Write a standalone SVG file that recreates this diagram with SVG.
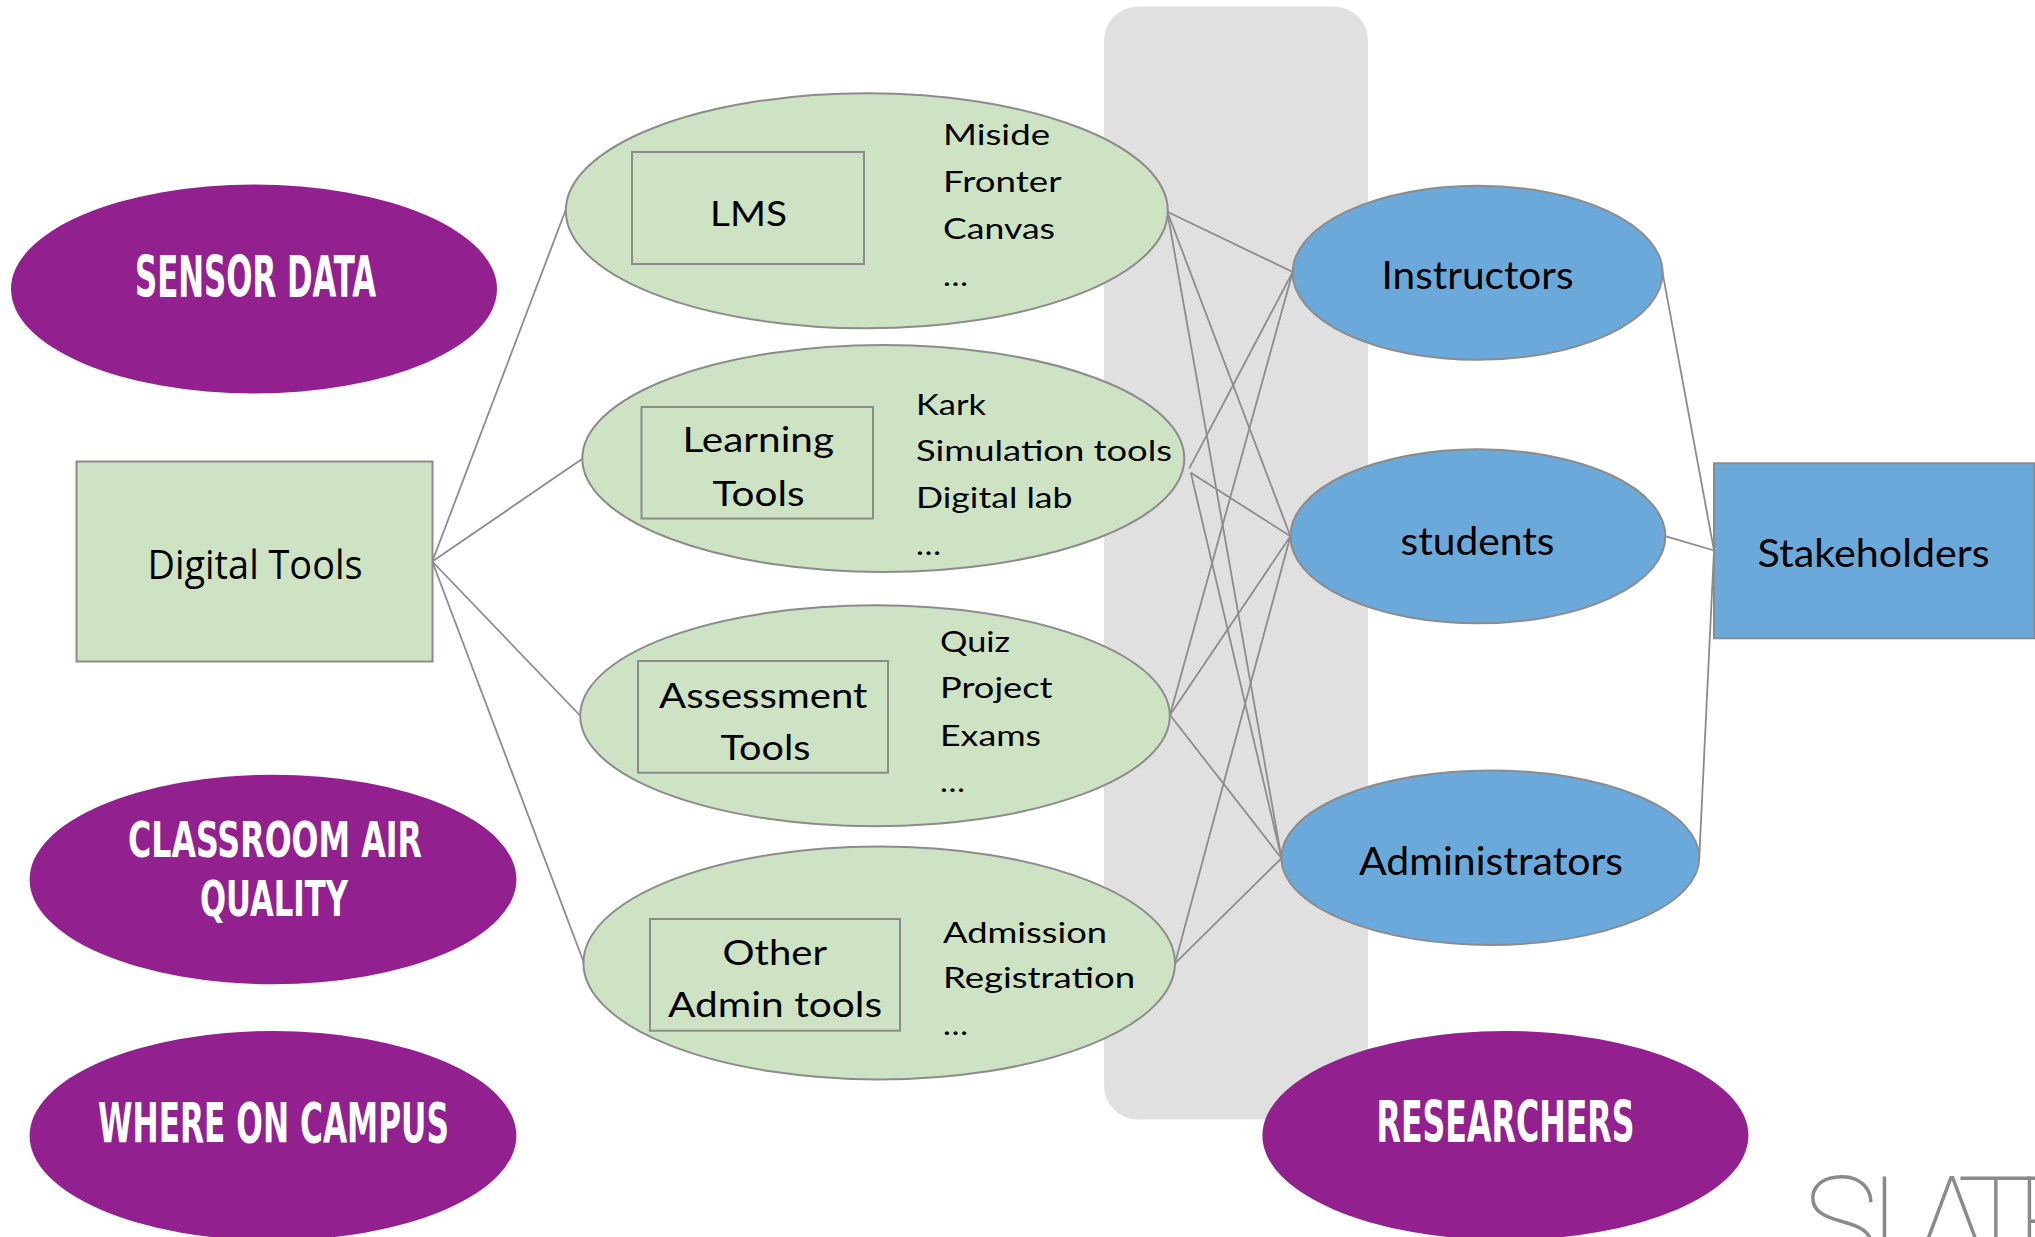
<svg xmlns="http://www.w3.org/2000/svg" width="2035" height="1237" viewBox="0 0 2035 1237">
<style>
.bg{fill:#e0e0e0}
.purple{fill:#93208f}
.ptxt{font-family:"DejaVu Sans Condensed","DejaVu Sans",sans-serif;font-stretch:condensed;font-weight:bold;fill:#ffffff}
.green{fill:#cee3c3;stroke:#8c8c8c;stroke-width:2}
.blue{fill:#6aa9d9;stroke:#8c8c8c;stroke-width:2}
.lbl{font-family:Lato,"Open Sans",sans-serif;fill:#000000}
.box{font-size:34px}
.lst{font-size:28px}
.big{font-size:38px}
.dt{font-family:"Open Sans",sans-serif;font-size:40px;fill:#000000}
.conn line{stroke:#8c8c8c;stroke-width:1.8}
.slate{font-family:Roboto,"Open Sans",sans-serif;font-weight:100;font-size:130px;fill:#8a8a8a}
</style>
<rect class="bg" x="1104" y="6.5" width="264" height="1113" rx="34" ry="34"/>
<g id="connectors" class="conn">
<line x1="432.3" y1="561.5" x2="565.5" y2="210.5"/>
<line x1="432.3" y1="561.5" x2="582" y2="459"/>
<line x1="432.3" y1="561.5" x2="580" y2="715.5"/>
<line x1="432.3" y1="561.5" x2="584" y2="963"/>
<line x1="1167.3" y1="211.7" x2="1292.7" y2="272"/>
<line x1="1167.3" y1="211.7" x2="1290.4" y2="536.2"/>
<line x1="1167.3" y1="211.7" x2="1281.5" y2="858.2"/>
<line x1="1189.3" y1="468.3" x2="1292.7" y2="272"/>
<line x1="1190.8" y1="472.7" x2="1290.4" y2="536.2"/>
<line x1="1190.8" y1="472.7" x2="1281.5" y2="858.2"/>
<line x1="1170" y1="715" x2="1292.7" y2="272"/>
<line x1="1170" y1="715" x2="1290.4" y2="536.2"/>
<line x1="1170" y1="715" x2="1281.5" y2="858.2"/>
<line x1="1175" y1="963.3" x2="1290.4" y2="536.2"/>
<line x1="1175" y1="963.3" x2="1281.5" y2="858.2"/>
<line x1="1662.5" y1="272.4" x2="1714" y2="550.5"/>
<line x1="1665.3" y1="536.2" x2="1714" y2="550.5"/>
<line x1="1699.3" y1="856.6" x2="1714" y2="550.5"/>
</g>
<g id="sensor-data">
<ellipse class="purple" cx="254" cy="289" rx="243" ry="104.5"/>
<text class="ptxt" x="135" y="297" font-size="57" textLength="241" lengthAdjust="spacingAndGlyphs">SENSOR DATA</text>
</g>
<g id="classroom-air-quality">
<ellipse class="purple" cx="273" cy="879.5" rx="243.4" ry="104.7"/>
<text class="ptxt" x="128" y="856.5" font-size="50" textLength="294" lengthAdjust="spacingAndGlyphs">CLASSROOM AIR</text>
<text class="ptxt" x="200" y="915.5" font-size="50" textLength="148" lengthAdjust="spacingAndGlyphs">QUALITY</text>
</g>
<g id="where-on-campus">
<ellipse class="purple" cx="273" cy="1135.7" rx="243.4" ry="104.7"/>
<text class="ptxt" x="98" y="1141.8" font-size="56" textLength="351" lengthAdjust="spacingAndGlyphs">WHERE ON CAMPUS</text>
</g>
<g id="researchers">
<ellipse class="purple" cx="1505.4" cy="1135.5" rx="243" ry="104.5"/>
<text class="ptxt" x="1376.5" y="1141.7" font-size="57" textLength="258" lengthAdjust="spacingAndGlyphs">RESEARCHERS</text>
</g>
<g id="digital-tools">
<rect class="green" x="76.5" y="461.5" width="356" height="200"/>
<text class="dt" x="147.5" y="579.3" textLength="215" lengthAdjust="spacingAndGlyphs">Digital Tools</text>
</g>
<g id="lms">
<ellipse class="green" cx="866.8" cy="210.8" rx="301" ry="117.5"/>
<rect class="green" x="632" y="152" width="232" height="112"/>
<text class="lbl box" x="710" y="226" textLength="77" lengthAdjust="spacingAndGlyphs">LMS</text>
<text class="lbl lst" x="943" y="145" textLength="107" lengthAdjust="spacingAndGlyphs">Miside</text>
<text class="lbl lst" x="943" y="191.7" textLength="118.5" lengthAdjust="spacingAndGlyphs">Fronter</text>
<text class="lbl lst" x="943" y="239" textLength="112" lengthAdjust="spacingAndGlyphs">Canvas</text>
<text class="lbl lst" x="943" y="286" textLength="25" lengthAdjust="spacingAndGlyphs">…</text>
</g>
<g id="learning-tools">
<ellipse class="green" cx="883.3" cy="458.5" rx="301" ry="113.5"/>
<rect class="green" x="641.5" y="407" width="231.5" height="111.5"/>
<text class="lbl box" x="682.5" y="452.3" textLength="151.5" lengthAdjust="spacingAndGlyphs">Learning</text>
<text class="lbl box" x="712.5" y="506" textLength="92" lengthAdjust="spacingAndGlyphs">Tools</text>
<text class="lbl lst" x="916" y="415" textLength="70" lengthAdjust="spacingAndGlyphs">Kark</text>
<text class="lbl lst" x="916" y="461" textLength="256" lengthAdjust="spacingAndGlyphs">Simulation tools</text>
<text class="lbl lst" x="916" y="507.7" textLength="156.5" lengthAdjust="spacingAndGlyphs">Digital lab</text>
<text class="lbl lst" x="916" y="555" textLength="25" lengthAdjust="spacingAndGlyphs">…</text>
</g>
<g id="assessment-tools">
<ellipse class="green" cx="875" cy="715.8" rx="294.8" ry="110.5"/>
<rect class="green" x="638" y="661" width="250" height="111.7"/>
<text class="lbl box" x="659" y="708.3" textLength="208.5" lengthAdjust="spacingAndGlyphs">Assessment</text>
<text class="lbl box" x="720.5" y="760" textLength="90" lengthAdjust="spacingAndGlyphs">Tools</text>
<text class="lbl lst" x="940" y="651.7" textLength="70" lengthAdjust="spacingAndGlyphs">Quiz</text>
<text class="lbl lst" x="940" y="698.3" textLength="112.5" lengthAdjust="spacingAndGlyphs">Project</text>
<text class="lbl lst" x="940" y="745.7" textLength="101" lengthAdjust="spacingAndGlyphs">Exams</text>
<text class="lbl lst" x="940" y="791.7" textLength="25" lengthAdjust="spacingAndGlyphs">…</text>
</g>
<g id="other-admin-tools">
<ellipse class="green" cx="879.2" cy="963" rx="295.8" ry="116.5"/>
<rect class="green" x="650" y="919" width="250" height="111.7"/>
<text class="lbl box" x="722.5" y="965" textLength="104.5" lengthAdjust="spacingAndGlyphs">Other</text>
<text class="lbl box" x="668" y="1016.7" textLength="214" lengthAdjust="spacingAndGlyphs">Admin tools</text>
<text class="lbl lst" x="943" y="942.7" textLength="164" lengthAdjust="spacingAndGlyphs">Admission</text>
<text class="lbl lst" x="943" y="988.3" textLength="192" lengthAdjust="spacingAndGlyphs">Registration</text>
<text class="lbl lst" x="943" y="1035" textLength="25" lengthAdjust="spacingAndGlyphs">…</text>
</g>
<g id="instructors">
<ellipse class="blue" cx="1477.6" cy="272.8" rx="185" ry="87"/>
<text class="lbl big" x="1381.5" y="289.3" textLength="192" lengthAdjust="spacingAndGlyphs">Instructors</text>
</g>
<g id="students">
<ellipse class="blue" cx="1477.9" cy="536.3" rx="187.5" ry="87"/>
<text class="lbl big" x="1400.5" y="554.6" textLength="154" lengthAdjust="spacingAndGlyphs">students</text>
</g>
<g id="administrators">
<ellipse class="blue" cx="1490.3" cy="857.7" rx="209" ry="87.3"/>
<text class="lbl big" x="1359" y="874.5" textLength="264" lengthAdjust="spacingAndGlyphs">Administrators</text>
</g>
<g id="stakeholders">
<rect class="blue" x="1714" y="463.3" width="320" height="175"/>
<text class="lbl big" x="1757.5" y="567.3" textLength="232" lengthAdjust="spacingAndGlyphs">Stakeholders</text>
</g>
<text class="slate" x="1802 1870 1913 1957 2015" y="1269">SLATE</text>
</svg>
